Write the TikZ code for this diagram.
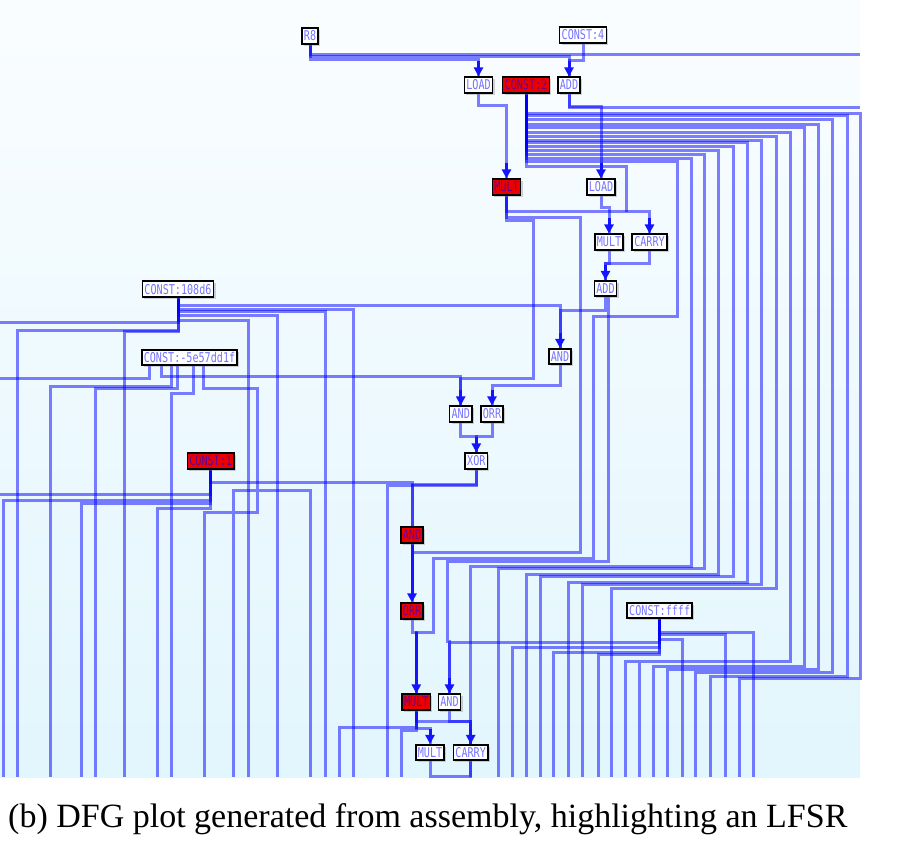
\documentclass[tikz,border=0pt]{standalone}
\usepackage{fontspec}
\setmainfont{Liberation Serif}
\newfontfamily\nodefont[FakeStretch=0.75]{DejaVu Sans Mono}
\usetikzlibrary{arrows.meta, shadows}
\definecolor{dfgred}{RGB}{235,0,0}
\definecolor{bgtop}{RGB}{250,253,255}
\definecolor{bgbot}{RGB}{226,246,253}
\pgfdeclarelayer{bg}
\pgfdeclarelayer{wires}
\pgfsetlayers{bg,wires,main}

\begin{document}
\begin{tikzpicture}[x=1pt, y=-1pt,
  op/.style={draw=black, line width=1.6pt, fill=white, font=\nodefont\fontsize{13.5}{13.5}\selectfont, text=blue, text opacity=0.55, inner xsep=2pt, inner ysep=0pt, minimum height=15.5pt, drop shadow={shadow xshift=2pt, shadow yshift=-2pt, opacity=0.35}},
  hot/.style={op, fill=dfgred},
  wire/.style={draw=blue, draw opacity=0.5, line width=3pt},
  feed/.style={draw=blue!92!white, line width=3pt, -{Triangle[width=9pt,length=9pt]}}
]
\useasboundingbox (0,0) rectangle (898,841);

% Operations
\node[op] (r8) at (310,36) {R8};
\node[op] (c4) at (583,35) {CONST:4};
\node[op] (load1) at (478.5,85) {LOAD};
\node[hot] (c2) at (526,85) {CONST:2};
\node[op] (add1) at (569,85) {ADD};
\node[hot] (mult1) at (506.5,187) {MULT};
\node[op] (load2) at (601,187) {LOAD};
\node[op] (mult2) at (609,242) {MULT};
\node[op] (carry1) at (649.5,242) {CARRY};
\node[op] (add2) at (605.5,288.5) {ADD};
\node[op] (c108) at (178,289) {CONST:108d6};
\node[op] (and1) at (560,356.5) {AND};
\node[op] (c5e) at (189.5,357.5) {CONST:-5e57dd1f};
\node[op] (and2) at (460.7,414) {AND};
\node[op] (orr1) at (492,414) {ORR};
\node[hot] (c1) at (210.7,461) {CONST:1};
\node[op] (xor1) at (476.3,461) {XOR};
\node[hot] (and3) at (412,535) {AND};
\node[hot] (orr2) at (412,611) {ORR};
\node[op] (cff) at (659.7,610.5) {CONST:ffff};
\node[hot] (mult3) at (416.3,702) {MULT};
\node[op] (and4) at (449.5,702) {AND};
\node[op] (mult4) at (430,752.5) {MULT};
\node[op] (carry2) at (470.7,752.5) {CARRY};

% Caption
\node[anchor=base west, inner sep=0pt, font=\fontsize{34}{38}\selectfont] (caption) at (8,827) {(b) DFG plot generated from assembly, highlighting an LFSR};

\begin{pgfonlayer}{bg}
\fill[white] (0,0) rectangle (898,841);
\shade[top color=bgtop, bottom color=bgbot] (0,0) rectangle (860,777);
\end{pgfonlayer}

\begin{pgfonlayer}{wires}
% top
\draw[wire] (r8.south) |- (860,54);
\draw[wire] (r8.south) |- ([yshift=17pt]load1.north) -- (load1.north);
\draw[wire] (r8.south) |- ([yshift=20pt]add1.north) -- (add1.north);
\draw[wire] (c4.south) |- ([yshift=16pt]add1.north) -- (add1.north);
\draw[wire] (add1.south) |- (860,107);
\draw[wire] (add1.south) |- ([yshift=72pt]load2.north) -- (load2.north);
\draw[wire] (load1.south) |- ([yshift=73pt]mult1.north) -- (mult1.north);

% staircase from CONST:2
\foreach \xr/\yt/\yb/\xl in {860/113/678/739, 847/115/676/710, 832/119/672/695, 818/124/669/667, 804/127/666/653, 776/136/588/611, 761/140/584/582, 747/142/582/568, 733/146/576/540, 718/150/574/526, 704/154/568/498, 691/158/566/470}
  \draw[wire] (c2.south) |- (\xr,\yt) |- (\xl,\yb) -- (\xl,777);
\draw[wire] (c2.south) |- (790,132) |- (625,661) -- (625,777)
  (639,661) -- (639,777);
\draw[wire] (c2.south) |- (626,166) -- (626,212);
\draw[wire] (c2.south) |- (677,161) |- (593,316) |- (433,558) |- ([yshift=61pt]mult3.north) -- (mult3.north);

% middle
\draw[wire] (mult1.south) |- ([yshift=22pt]carry1.north) -- (carry1.north);
\draw[wire] (load2.south) |- ([yshift=26pt]mult2.north) -- (mult2.north);
\draw[wire] (mult1.south) |- (580,217) |- ([yshift=50pt]orr2.north) -- (orr2.north);
\draw[wire] (mult1.south) |- (533,220) |- ([yshift=27pt]and2.north) -- (and2.north);
\draw[wire] (mult2.south) |- ([yshift=16pt]add2.north) -- (add2.north);
\draw[wire] (carry1.south) |- ([yshift=16pt]add2.north) -- (add2.north);
\draw[wire] (add2.south) |- ([yshift=37pt]and1.north) -- (and1.north);
\draw[wire] ([xshift=3pt]add2.south) |- (447,561) |- ([yshift=52pt]and4.north) -- (and4.north);
\draw[wire] (c108.south) |- ([yshift=42pt]and1.north) -- (and1.north);
\draw[wire] (and1.south) |- ([yshift=20pt]orr1.north) -- (orr1.north);
\draw[wire] (and2.south) |- ([yshift=16pt]xor1.north) -- (xor1.north);
\draw[wire] (orr1.south) |- ([yshift=16pt]xor1.north) -- (xor1.north);
\draw[wire] (xor1.south) |- ([yshift=42pt]and3.north) -- (and3.north);
\draw[wire] (xor1.south) |- (387,485) -- (387,777);
\draw[wire] (c1.south) |- ([yshift=44pt]and3.north) -- (and3.north);
\draw[wire] (orr2.south) |- ([yshift=61pt]mult3.north) -- (mult3.north);
\draw[wire] (mult3.south) |- ([yshift=22pt]carry2.north) -- (carry2.north);
\draw[wire] (and4.south) |- ([yshift=22pt]carry2.north) -- (carry2.north);
\draw[wire] (mult3.south) |- ([yshift=15pt]mult4.north) -- (mult4.north);
\draw[wire] (mult3.south) |- (401,730) -- (401,777);
\draw[wire] (mult3.south) |- (339,727) -- (339,777);
\draw[wire] (mult4.south) -- ++(0,15) -| (carry2.south);

% CONST:ffff
\draw[wire] (cff.south) |- ([yshift=51pt]and4.north) -- (and4.north);
\foreach \x/\y in {753/632, 725/634, 682/639, 512/647, 553/652, 598/654}
  \draw[wire] (cff.south) |- (\x,\y) -- (\x,777);

% CONST:108d6
\draw[wire] (c108.south) |- (0,322);
\foreach \x/\y in {17/330, 124/331, 248/320, 277/315, 325/311, 353/309}
  \draw[wire] (c108.south) |- (\x,\y) -- (\x,777);

% CONST:-5e57dd1f
\draw[wire] ([xshift=-40pt]c5e.south) |- (0,378);
\draw[wire] ([xshift=-28pt]c5e.south) |- ([yshift=29pt]and2.north) -- (and2.north);
\foreach \s/\x/\y in {-18/50/386, -12/95/388, 4/171/393}
  \draw[wire] ([xshift=\s pt]c5e.south) |- (\x,\y) -- (\x,777);
\draw[wire] ([xshift=14pt]c5e.south) |- (257,388) |- (233,490) -- (233,777)
  (257,490) -| (310,777)
  (257,490) |- (243,512) -| (204,777);

% CONST:1
\draw[wire] (c1.south) |- (0,494);
\foreach \x/\y in {3/500, 81/503, 157/508}
  \draw[wire] (c1.south) |- (\x,\y) -- (\x,777);

% arrow heads
\foreach \n in {load1, add1, mult1, load2, mult2, carry1, add2, and1, and2, orr1, xor1, and4, mult4, carry2}
  \draw[feed] ([yshift=15pt]\n.north) -- (\n.north);
\draw[feed] (and3.south) -- (orr2.north);
\draw[feed] ([yshift=61pt]mult3.north) -- (mult3.north);
\end{pgfonlayer}

\end{tikzpicture}
\end{document}
